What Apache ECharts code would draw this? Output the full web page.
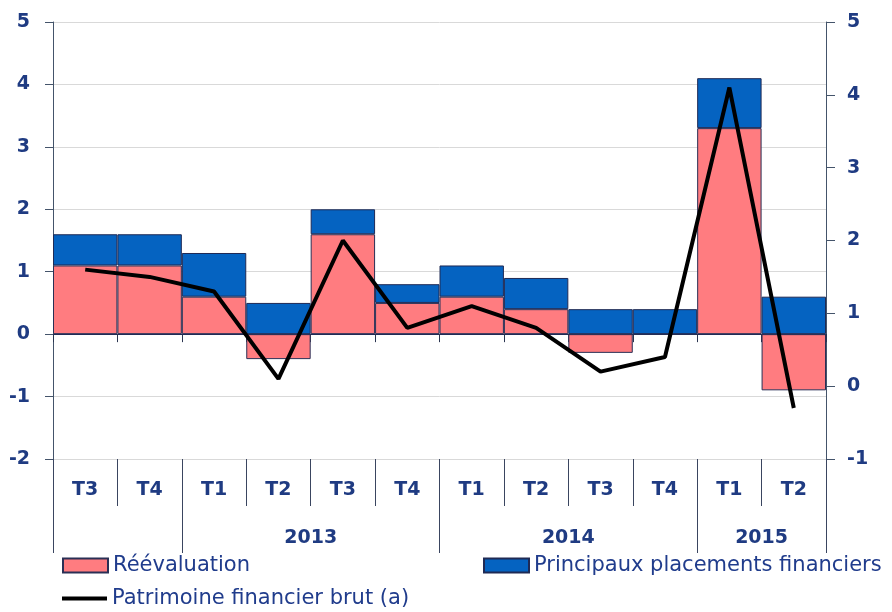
<!DOCTYPE html>
<html>
<head>
<meta charset="utf-8">
<script src="https://cdn.jsdelivr.net/npm/echarts@6/dist/echarts.min.js"></script>
<style>html,body{margin:0;padding:0;background:#fff;}#c{width:892px;height:612px;}</style>
</head>
<body>
<div id="c"></div>
<script>
var quarters = ['T3','T4','T1','T2','T3','T4','T1','T2','T3','T4','T1','T2'];
var yearLabels = ['','','','','2013','','','','2014','','','2015',''];
var yearBoundaries = [0,2,6,10,12];
var reevaluation = [1.1,1.1,0.6,-0.4,1.6,0.5,0.6,0.4,-0.3,0,3.3,-0.9];
var placements = [0.5,0.5,0.7,0.5,0.4,0.3,0.5,0.5,0.4,0.4,0.8,0.6];
var patrimoine = [1.6,1.5,1.3,0.1,2.0,0.8,1.1,0.8,0.2,0.4,4.1,-0.3];
var leftTicks = {min:-2,max:5,interval:1};
var rightTicks = {min:-1,max:5,interval:1};

var navy = '#1F3B82';
var lblFont = 'DejaVu Sans';
var legText = {fontFamily:lblFont,fontSize:21,color:'#203C8C'};
var chart = echarts.init(document.getElementById('c'), null, {renderer:'canvas'});
chart.setOption({
  animation:false,
  grid:{left:53,right:66,top:22,bottom:153,containLabel:false},
  legend:[
    {left:62,top:555,padding:0,itemWidth:45,itemHeight:14,
     data:[{name:'Réévaluation',icon:'rect'}],textStyle:legText},
    {left:62,top:588,padding:0,itemWidth:45,itemHeight:4,
     data:[{name:'Patrimoine financier brut (a)',icon:'rect'}],textStyle:legText},
    {left:483,top:555,padding:0,itemWidth:45,itemHeight:14,
     data:[{name:'Principaux placements financiers',icon:'rect'}],textStyle:legText}
  ],
  xAxis:[
    {type:'category',data:quarters,position:'bottom',
     axisLine:{onZero:true,lineStyle:{color:'#1F2A55',width:1}},
     axisTick:{show:true,length:8,interval:0,lineStyle:{color:'#2A3550'}},
     axisLabel:{show:false},splitLine:{show:false}},
    {type:'category',data:quarters,position:'bottom',
     axisLine:{show:false,onZero:false},
     axisTick:{show:true,length:47,interval:0,lineStyle:{color:'#3A4560'}},
     axisLabel:{show:true,interval:0,margin:22,fontFamily:lblFont,fontWeight:'bold',fontSize:19,color:navy},
     splitLine:{show:false}},
    {type:'category',data:yearLabels,boundaryGap:false,position:'bottom',
     axisLine:{show:false,onZero:false},
     axisTick:{show:true,length:94,interval:function(i){return yearBoundaries.indexOf(i)>=0;},lineStyle:{color:'#3A4560'}},
     axisLabel:{show:true,interval:0,margin:70,fontFamily:lblFont,fontWeight:'bold',fontSize:19,color:navy},
     splitLine:{show:false}}
  ],
  yAxis:[
    {type:'value',min:leftTicks.min,max:leftTicks.max,interval:leftTicks.interval,position:'left',
     axisLine:{show:true,lineStyle:{color:'#44546A'}},
     axisTick:{show:true,length:8,lineStyle:{color:'#44546A'}},
     axisLabel:{margin:23,fontFamily:lblFont,fontWeight:'bold',fontSize:19,color:navy},
     splitLine:{show:true,lineStyle:{color:'#D9D9D9',width:1}}},
    {type:'value',min:rightTicks.min,max:rightTicks.max,interval:rightTicks.interval,position:'right',
     axisLine:{show:true,lineStyle:{color:'#44546A'}},
     axisTick:{show:true,length:9,lineStyle:{color:'#44546A'}},
     axisLabel:{margin:21,fontFamily:lblFont,fontWeight:'bold',fontSize:19,color:navy},
     splitLine:{show:false}}
  ],
  series:[
    {name:'Réévaluation',type:'bar',stack:'s',data:reevaluation,xAxisIndex:0,yAxisIndex:0,
     barCategoryGap:'0%',itemStyle:{color:'#FF7C80',borderColor:'#2A2F55',borderWidth:1},z:2},
    {name:'Principaux placements financiers',type:'bar',stack:'s',data:placements,xAxisIndex:0,yAxisIndex:0,
     barCategoryGap:'0%',itemStyle:{color:'#0563C1',borderColor:'#1F2A55',borderWidth:1},z:2},
    {name:'Patrimoine financier brut (a)',type:'line',data:patrimoine,xAxisIndex:0,yAxisIndex:1,
     symbol:'none',lineStyle:{color:'#000',width:4},itemStyle:{color:'#000'},z:5}
  ]
});
</script>
</body>
</html>
